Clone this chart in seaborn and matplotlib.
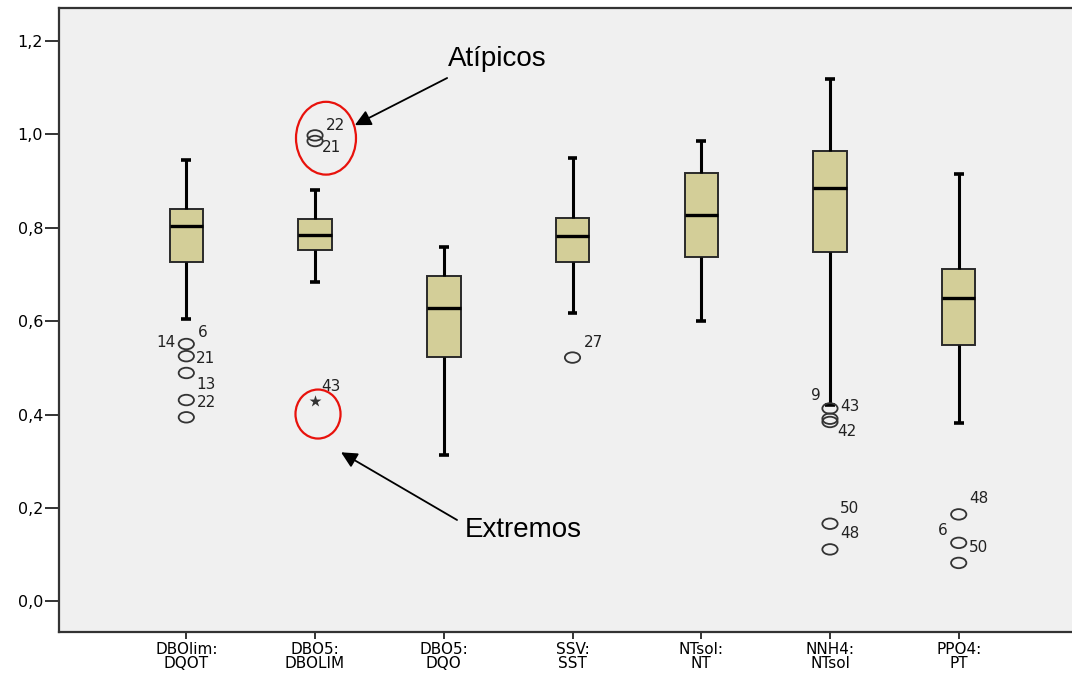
import numpy as np
import pandas as pd
import matplotlib
matplotlib.use("Agg")
import matplotlib.pyplot as plt
from matplotlib.patches import Ellipse
from matplotlib.path import Path
import seaborn as sns

# Ratios shown on the category axis
categories = ["DBOlim:\nDQOT", "DBO5:\nDBOLIM", "DBO5:\nDQO", "SSV:\nSST",
              "NTsol:\nNT", "NNH4:\nNTsol", "PPO4:\nPT"]

# Five-number summaries (whisker ends, quartiles, median)
whisker_low = [0.604, 0.684, 0.313, 0.618, 0.600, 0.420, 0.382]
q1 = [0.726, 0.752, 0.523, 0.726, 0.737, 0.748, 0.549]
median = [0.803, 0.784, 0.628, 0.783, 0.827, 0.885, 0.649]
q3 = [0.841, 0.818, 0.696, 0.822, 0.917, 0.965, 0.711]
whisker_high = [0.946, 0.881, 0.759, 0.949, 0.986, 1.118, 0.915]

# Outliers (circles) and extreme values (stars)
outlier_cat = [0, 0, 0, 0, 0, 1, 1, 3, 5, 5, 5, 5, 5, 6, 6, 6]
outlier_val = [0.551, 0.525, 0.489, 0.431, 0.394, 0.998, 0.986, 0.522,
               0.413, 0.391, 0.384, 0.166, 0.111, 0.186, 0.125, 0.082]
extreme_cat = [1]
extreme_val = [0.428]

# Case numbers printed next to the atypical points
case_cat = [0, 0, 0, 0, 0, 1, 1, 1, 3, 5, 5, 5, 5, 5, 6, 6, 6]
case_val = [0.551, 0.551, 0.525, 0.489, 0.431, 0.998, 0.986, 0.428, 0.522,
            0.413, 0.413, 0.384, 0.166, 0.111, 0.186, 0.125, 0.125]
case_id = ["14", "6", "21", "13", "22", "22", "21", "43", "27",
           "9", "43", "42", "50", "48", "48", "6", "50"]

y_ticks = [0.0, 0.2, 0.4, 0.6, 0.8, 1.0, 1.2]

# Label placement (points, relative to the point)
label_offsets = [(-15, 1), (11.5, 8), (13.7, -2), (14.4, -8.6), (14.4, -2),
                 (15, 7), (12, -5), (11.5, 10.5), (15, 10.8),
                 (-10, 9.4), (14.4, 1.4), (12, -7), (14.4, 11.2), (14.4, 11.3),
                 (14.4, 11.5), (-11.5, 8.6), (14.4, -3.6)]

BOX_FILL = "#d3ce98"
EDGE = "#2a2a2a"
BG = "#f0f0f0"

sns.set_style("white")
plt.rcParams["font.family"] = ["DejaVu Sans"]
plt.rcParams["text.color"] = "black"
plt.rcParams["xtick.color"] = "black"
plt.rcParams["ytick.color"] = "black"

fig = plt.figure(figsize=(10.72, 6.75), dpi=100)
ax = fig.add_axes([59 / 1072, 43 / 675, 1013 / 1072, 624 / 675])
ax.set_facecolor(BG)

# Long-form table: a five-point sample per ratio reproduces its summary exactly
rows = []
for i, c in enumerate(categories):
    for v in (whisker_low[i], q1[i], median[i], q3[i], whisker_high[i]):
        rows.append({"ratio": c, "value": v})
box_df = pd.DataFrame(rows)

sns.boxplot(data=box_df, x="ratio", y="value", order=categories,
            whis=(0, 100), width=0.26, color=BOX_FILL, saturation=1,
            linecolor=EDGE, linewidth=1.4, showfliers=False,
            medianprops={"color": "black", "linewidth": 2.4},
            whiskerprops={"color": "black", "linewidth": 2.2},
            capprops={"color": "black", "linewidth": 2.6,
                      "solid_capstyle": "butt"},
            capwidths=0.075, ax=ax)

# Outlier circles drawn as flattened rings
ring = Path(Path.unit_circle().vertices * np.array([1.45, 1.0]),
            Path.unit_circle().codes)
out_df = pd.DataFrame({"ratio": [categories[i] for i in outlier_cat],
                       "value": outlier_val})
n_before = len(ax.collections)
sns.stripplot(data=out_df, x="ratio", y="value", order=categories,
              jitter=False, marker=ring, size=11, color="#333333",
              edgecolor="#333333", linewidth=1.3, ax=ax)
for coll in ax.collections[n_before:]:
    coll.set_facecolor("none")
    coll.set_edgecolor("#333333")

ext_df = pd.DataFrame({"ratio": [categories[i] for i in extreme_cat],
                       "value": extreme_val})
sns.stripplot(data=ext_df, x="ratio", y="value", order=categories,
              jitter=False, marker="*", size=9, color="#333333", linewidth=0,
              ax=ax)

for cat, val, cid, (dx, dy) in zip(case_cat, case_val, case_id, label_offsets):
    ax.annotate(cid, xy=(cat, val), xytext=(dx, dy), textcoords="offset points",
                ha="center", va="center", fontsize=11, color="#222222")

# Highlight rings and callouts
ax.add_patch(Ellipse((1.085, 0.992), 0.466, 0.156, fill=False,
                     edgecolor="#e8120c", linewidth=1.6, zorder=5))
ax.add_patch(Ellipse((1.023, 0.401), 0.35, 0.105, fill=False,
                     edgecolor="#e8120c", linewidth=1.6, zorder=5))

arrow = dict(arrowstyle="-|>", color="black", lw=1.3, mutation_scale=24,
             shrinkA=0, shrinkB=0)
ax.annotate("", xy=(1.309, 1.020), xytext=(2.026, 1.121), arrowprops=arrow)
ax.annotate("", xy=(1.202, 0.319), xytext=(2.103, 0.174), arrowprops=arrow)
ax.text(2.033, 1.147, "Atípicos", fontsize=20, family="Liberation Sans",
        ha="left", va="baseline")
ax.text(2.165, 0.138, "Extremos", fontsize=20, family="Liberation Sans",
        ha="left", va="baseline")

# Axes styling
ax.set_xlim(-0.989, 6.88)
ax.set_ylim(-0.066, 1.271)
ax.set_yticks(y_ticks)
ax.set_yticklabels([f"{t:.1f}".replace(".", ",") for t in y_ticks], fontsize=11.5)
ax.set_xticks(range(len(categories)))
ax.set_xticklabels(categories, fontsize=11, linespacing=0.92)
ax.set_xlabel("")
ax.set_ylabel("")
ax.tick_params(axis="y", length=10, width=1.4, pad=1.5, color="#333333",
               left=True)
ax.tick_params(axis="x", length=5, width=1.4, pad=2, color="#333333",
               bottom=True)
for side in ("left", "bottom", "top"):
    ax.spines[side].set_color("#333333")
    ax.spines[side].set_linewidth(1.6)
ax.spines["right"].set_visible(False)

fig.savefig("out.png", dpi=100, facecolor="white")
